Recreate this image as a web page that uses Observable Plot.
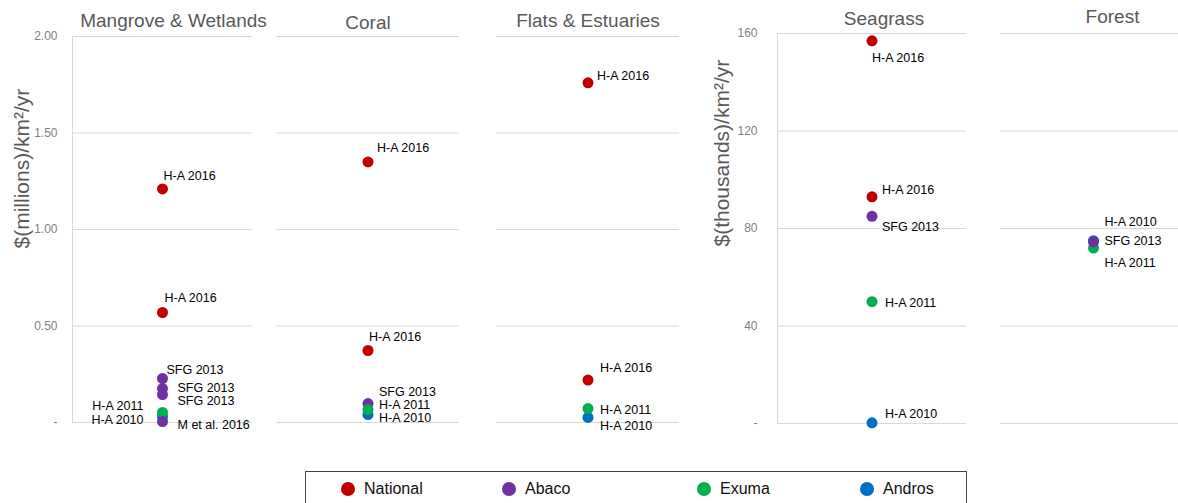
<!DOCTYPE html>
<html>
<head>
<meta charset="utf-8">
<script src="https://cdn.jsdelivr.net/npm/d3@7"></script>
<script src="https://cdn.jsdelivr.net/npm/@observablehq/plot@0.6"></script>
<style>
  body { margin: 0; background: #fff; font-family: "Liberation Sans", Arial, sans-serif; }
  #chart { position: relative; width: 1178px; height: 503px; overflow: hidden; background: #fff; }
  .panel { position: absolute; top: 0; }
  .panel svg { overflow: visible; max-width: none !important; }
  #legend { position: absolute; left: 305px; top: 471px; width: 662px; height: 40px; border: 1px solid #404040; box-sizing: border-box; }
  .item { position: absolute; top: 9px; height: 16px; display: flex; align-items: center; font-size: 16px; color: #111; }
  .sw { width: 14px; height: 14px; border-radius: 50%; margin-right: 9px; }
</style>
</head>
<body>
<div id="chart"><div id="legend"></div></div>
<script>
// ---------- data ----------
const panelsMillions = ["Mangrove & Wetlands", "Coral", "Flats & Estuaries"];
const panelsThousands = ["Seagrass", "Forest"];
const regions = ["National", "Abaco", "Exuma", "Andros"];
const regionColors = ["#C00000", "#7030A0", "#00B050", "#0070C0"];
const yTicksMillions = [0, 0.5, 1, 1.5, 2];
const yTicksThousands = [0, 40, 80, 120, 160];
const yLabelMillions = "$(millions)/km²/yr";
const yLabelThousands = "$(thousands)/km²/yr";

// values in draw order
const mangroveRegion = ["Andros", "Exuma", "Abaco", "Abaco", "Abaco", "Abaco", "National", "National"];
const mangroveValue  = [0.03, 0.052, 0.005, 0.145, 0.176, 0.228, 0.57, 1.21];
const mangroveSource = ["H-A 2010", "H-A 2011", "M et al. 2016", "SFG 2013", "SFG 2013", "SFG 2013", "H-A 2016", "H-A 2016"];

const coralRegion = ["Andros", "Abaco", "Exuma", "National", "National"];
const coralValue  = [0.041, 0.098, 0.067, 0.373, 1.35];
const coralSource = ["H-A 2010", "SFG 2013", "H-A 2011", "H-A 2016", "H-A 2016"];

const flatsRegion = ["Andros", "Exuma", "National", "National"];
const flatsValue  = [0.026, 0.072, 0.22, 1.76];
const flatsSource = ["H-A 2010", "H-A 2011", "H-A 2016", "H-A 2016"];

const seagrassRegion = ["Andros", "Exuma", "Abaco", "National", "National"];
const seagrassValue  = [0.3, 50, 85, 93, 157];
const seagrassSource = ["H-A 2010", "H-A 2011", "SFG 2013", "H-A 2016", "H-A 2016"];

const forestRegion = ["Andros", "Exuma", "Abaco"];
const forestValue  = [75, 72, 74.5];
const forestSource = ["H-A 2010", "H-A 2011", "SFG 2013"];

// ---------- label placement (style, offsets in px) ----------
const mangroveLabelPlace = [[-19, 3, "end"], [-19, -6, "end"], [15, 3], [15, 6], [15, -1], [4, -8], [2, -14], [1, -13]];
const coralLabelPlace    = [[11, 3], [11, -12], [11, -5], [1, -14], [9, -14]];
const flatsLabelPlace    = [[12, 9], [12, 1], [12, -12], [9, -7]];
const seagrassLabelPlace = [[13, -9], [13, 1], [10, 11], [10, -7], [0, 17]];
const forestLabelPlace   = [[11, -19], [11, 15], [11, -1]];

const fmtMillions = d => d === 0 ? "-" : d.toFixed(2);
const fmtThousands = d => d === 0 ? "-" : String(d);

function panel(o) {
  const rows = o.value.map((v, i) => ({region: o.region[i], value: v, source: o.source[i]}));
  const marks = [Plot.gridY(o.ticks, {stroke: "#d9d9d9", strokeOpacity: 1})];
  if (o.axis) {
    marks.push(Plot.ruleX([0], {stroke: "#d9d9d9", strokeOpacity: 1}));
    marks.push(Plot.axisY(o.ticks, {tickFormat: o.fmt, tickSize: 0, tickPadding: o.tickPadding, fontSize: 12, color: "#7f7f7f", label: null}));
    marks.push(Plot.text([o.yLabel], {text: d => d, frameAnchor: "left", rotate: -90, dx: o.yLabelDx, dy: o.yLabelDy, fontSize: 21, fill: "#595959"}));
  }
  marks.push(Plot.dot(rows, {y: "value", r: 5.5, fill: "region", stroke: null}));
  rows.forEach((r, i) => {
    const p = o.place[i];
    marks.push(Plot.text([r], {y: "value", text: "source", dx: p[0], dy: p[1], textAnchor: p[2] || "start", fontSize: 12.5, fill: "#000"}));
  });
  marks.push(Plot.text([o.title], {text: d => d, frameAnchor: "top", dy: o.titleDy, dx: o.titleDx, fontSize: 19, fill: "#595959"}));
  const chart = Plot.plot({
    width: o.width, height: 447,
    marginTop: o.marginTop, marginBottom: 447 - o.bottomY,
    marginLeft: o.marginLeft, marginRight: o.marginRight,
    style: {fontFamily: "'Liberation Sans', Arial, sans-serif", background: "transparent", overflow: "visible", maxWidth: "none"},
    x: {domain: [0, 1], axis: null},
    y: {domain: o.domain, axis: null},
    color: {domain: regions, range: regionColors},
    marks
  });
  const div = document.createElement("div");
  div.className = "panel";
  div.style.left = o.left + "px";
  div.style.width = o.width + "px";
  div.appendChild(chart);
  document.getElementById("chart").appendChild(div);
}

const left = {domain: [0, 2], ticks: yTicksMillions, fmt: fmtMillions, marginTop: 36, bottomY: 422};
const right = {domain: [0, 160], ticks: yTicksThousands, fmt: fmtThousands, marginTop: 33, bottomY: 423};

panel({...left, title: panelsMillions[0], region: mangroveRegion, value: mangroveValue, source: mangroveSource, place: mangroveLabelPlace,
  left: 0, width: 265, marginLeft: 72, marginRight: 13, titleDx: 11, titleDy: -23, axis: true, tickPadding: 15, yLabel: yLabelMillions, yLabelDx: -50, yLabelDy: 19});
panel({...left, title: panelsMillions[1], region: coralRegion, value: coralValue, source: coralSource, place: coralLabelPlace,
  left: 265, width: 207, marginLeft: 11, marginRight: 13, titleDx: 0, titleDy: -21});
panel({...left, title: panelsMillions[2], region: flatsRegion, value: flatsValue, source: flatsSource, place: flatsLabelPlace,
  left: 472, width: 228, marginLeft: 24, marginRight: 21, titleDx: 0, titleDy: -23});
panel({...right, title: panelsThousands[0], region: seagrassRegion, value: seagrassValue, source: seagrassSource, place: seagrassLabelPlace,
  left: 700, width: 283, marginLeft: 77, marginRight: 17, titleDx: 12, titleDy: -22, axis: true, tickPadding: 20, yLabel: yLabelThousands, yLabelDx: -55, yLabelDy: 18});
panel({...right, title: panelsThousands[1], region: forestRegion, value: forestValue, source: forestSource, place: forestLabelPlace,
  left: 983, width: 203, marginLeft: 17, marginRight: 0, titleDx: 19, titleDy: -24});

// ---------- legend ----------
const legendSlots = [35, 196, 391, 554];
const legend = document.getElementById("legend");
regions.forEach((name, i) => {
  const item = document.createElement("div");
  item.className = "item";
  item.style.left = legendSlots[i] + "px";
  const sw = document.createElement("span");
  sw.className = "sw";
  sw.style.background = regionColors[i];
  const label = document.createElement("span");
  label.textContent = name;
  item.appendChild(sw);
  item.appendChild(label);
  legend.appendChild(item);
});
</script>
</body>
</html>
